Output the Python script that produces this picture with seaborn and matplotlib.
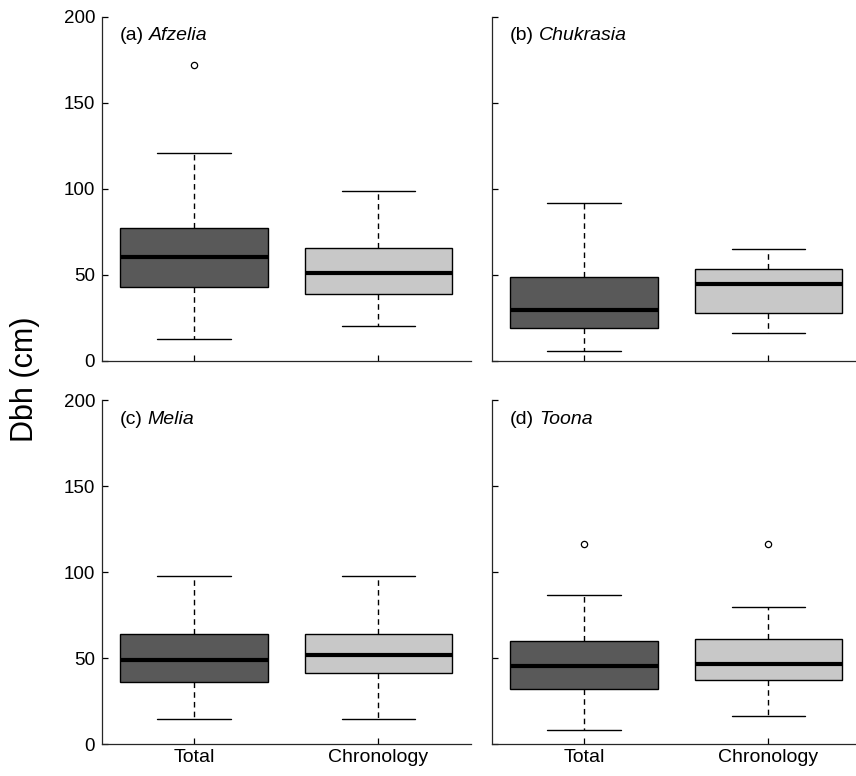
import matplotlib
matplotlib.use("Agg")
import matplotlib.pyplot as plt
import seaborn as sns

# five-number summaries (Dbh, cm)
species = ['Afzelia', 'Chukrasia', 'Melia', 'Toona']
panel_tags = ['(a)', '(b)', '(c)', '(d)']
groups = ['Total', 'Chronology']

whisker_low = {'Afzelia': [12.4, 20.2], 'Chukrasia': [5.8, 16.3],
               'Melia': [14.9, 14.9], 'Toona': [8.3, 16.6]}
q1 = {'Afzelia': [42.8, 38.6], 'Chukrasia': [19.2, 27.9],
      'Melia': [36.4, 41.3], 'Toona': [32.2, 37.4]}
median = {'Afzelia': [60.3, 51.0], 'Chukrasia': [29.5, 44.4],
          'Melia': [49.2, 52.1], 'Toona': [45.7, 46.9]}
q3 = {'Afzelia': [77.3, 65.3], 'Chukrasia': [48.8, 53.5],
      'Melia': [64.0, 64.0], 'Toona': [59.9, 61.3]}
whisker_high = {'Afzelia': [120.9, 98.5], 'Chukrasia': [91.9, 64.8],
                'Melia': [97.9, 97.9], 'Toona': [86.9, 80.1]}
outliers = {'Afzelia': [[171.7], []], 'Chukrasia': [[], []],
            'Melia': [[], []], 'Toona': [[116.2], [116.2]]}

box_colors = ['#595959', '#c8c8c8']

sns.set_style("ticks")
plt.rcParams['font.family'] = ['Liberation Sans', 'DejaVu Sans']
plt.rcParams['axes.linewidth'] = 0.9
plt.rcParams['text.color'] = 'black'

fig = plt.figure(figsize=(8.56, 7.76), dpi=100)

# axes rectangles in figure fraction
ax_w = 369 / 856
ax_h = 344 / 776
lefts = [101.7 / 856, 491.7 / 856]
bottoms = [(776 - 360.7) / 776, (776 - 744.3) / 776]

for i, sp in enumerate(species):
    row, col = divmod(i, 2)
    ax = fig.add_axes([lefts[col], bottoms[row], ax_w, ax_h])

    stats = []
    for j, g in enumerate(groups):
        stats.append({
            'label': g,
            'whislo': whisker_low[sp][j],
            'q1': q1[sp][j],
            'med': median[sp][j],
            'q3': q3[sp][j],
            'whishi': whisker_high[sp][j],
            'fliers': outliers[sp][j],
        })

    bp = ax.bxp(stats, positions=[1, 2], widths=0.8, patch_artist=True,
                showfliers=True,
                boxprops=dict(edgecolor='black', linewidth=1.0),
                medianprops=dict(color='black', linewidth=3.0),
                whiskerprops=dict(color='black', linewidth=1.0, linestyle=(0, (4, 3))),
                capprops=dict(color='black', linewidth=1.0),
                flierprops=dict(marker='o', markerfacecolor='white', markeredgecolor='black',
                                markersize=4.5, markeredgewidth=0.9))
    for patch, c in zip(bp['boxes'], box_colors):
        patch.set_facecolor(c)

    ax.set_xlim(0.5, 2.5)
    ax.set_ylim(0, 200)
    ax.set_yticks([0, 50, 100, 150, 200])
    ax.set_xticks([1, 2])
    ax.set_xticklabels(groups)
    ax.tick_params(axis='both', direction='in', length=4, width=0.9, colors='black')
    ax.tick_params(axis='y', pad=4.8, labelsize=13.5)
    ax.tick_params(axis='x', pad=3.5, labelsize=14)
    if row == 0:
        ax.tick_params(axis='x', labelbottom=False)
    if col == 1:
        ax.tick_params(axis='y', labelleft=False)
    sns.despine(ax=ax)
    ax.set_facecolor('white')

    tag = ax.text(0.048, 0.944, panel_tags[i], transform=ax.transAxes,
                  fontsize=14, va='center', ha='left', color='black')
    ax.annotate(sp, xy=(1, 0), xycoords=tag, xytext=(4, 0), textcoords='offset points',
                fontsize=14, style='italic', va='bottom', ha='left', color='black')

fig.text(0.029, 1 - 379 / 776, 'Dbh (cm)', rotation=90, fontsize=22,
         ha='center', va='center', color='black')

fig.savefig('out.png', dpi=100, facecolor='white')
